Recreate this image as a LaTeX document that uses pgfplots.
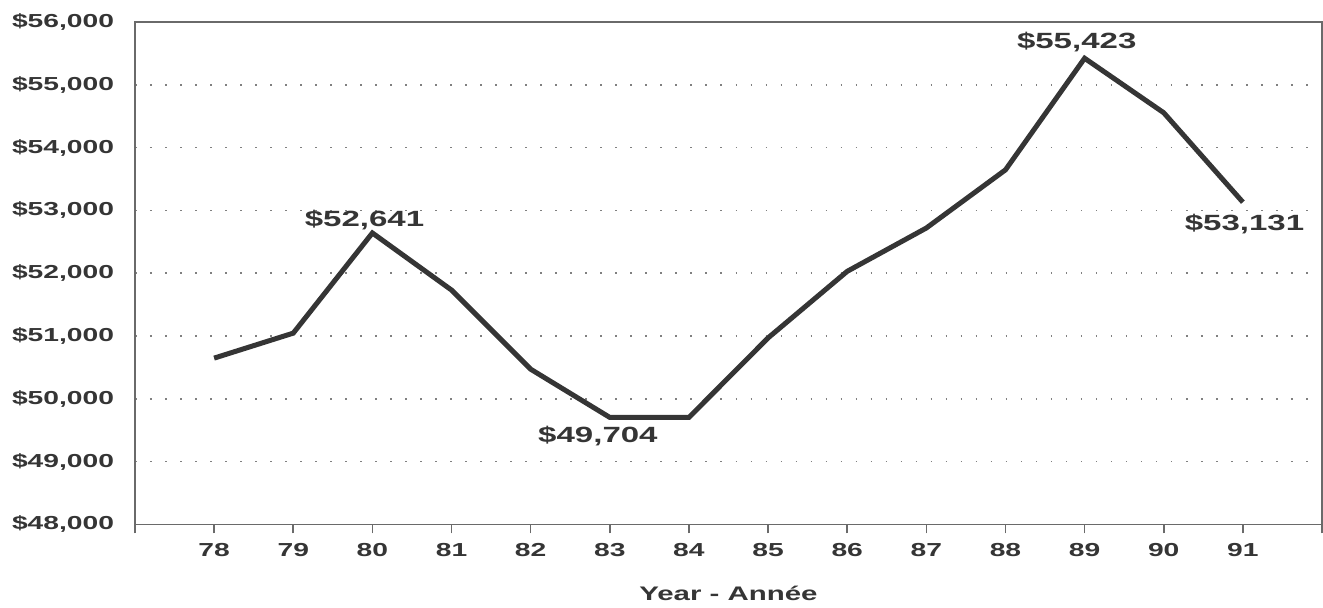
\documentclass[border=0pt]{standalone}
\usepackage{pgfplots}
\pgfplotsset{compat=1.18}
\usepackage{fontspec}
\setmainfont{Liberation Sans}
\newfontfamily\wide[FakeStretch=1.5]{Liberation Sans}
\definecolor{ink}{HTML}{353535}
\definecolor{frame}{HTML}{6A6A6A}
\begin{document}
\begin{tikzpicture}
\begin{axis}[
    scale only axis,
    width=593pt, height=251pt,
    xmin=-1, xmax=14,
    ymin=48000, ymax=56000,
    xtick={-1,...,14},
    xticklabels={,78,79,80,81,82,83,84,85,86,87,88,89,90,91,},
    ytick={48000,49000,...,56000},
    yticklabels={{\$48,000},{\$49,000},{\$50,000},{\$51,000},{\$52,000},{\$53,000},{\$54,000},{\$55,000},{\$56,000}},
    scaled y ticks=false,
    xtick pos=lower,
    ytick pos=left,
    tick align=outside,
    xtick style={frame, line width=0.8pt},
    x tick style={/pgfplots/major tick length=4.5pt},
    ytick style={draw=none},
    axis line style={frame, line width=0.8pt},
    ymajorgrids=true,
    grid style={gray, line width=0.8pt, dash pattern=on 0.8pt off 6.7pt},
    ticklabel style={font=\wide\bfseries\fontsize{9.4}{11}\selectfont, text=ink},
    yticklabel style={inner xsep=6pt},
    xticklabel style={yshift=-1.5pt, inner xsep=0pt},
    xlabel={Year - Année},
    xlabel style={font=\wide\bfseries\fontsize{9.8}{11}\selectfont, text=ink, yshift=-8pt},
    clip=false,
    nodes near coords style={font=\wide\bfseries\fontsize{11}{13}\selectfont, text=ink, anchor=center},
]
\addplot[ink, line width=2.5pt, line join=miter] coordinates {
    (0,50648) (1,51046) (2,52641) (3,51732) (4,50472) (5,49704) (6,49704)
    (7,50970) (8,52030) (9,52720) (10,53646) (11,55423) (12,54555) (13,53131)
};
\addplot[only marks, mark=none, nodes near coords={\$52,641}]
    coordinates {(1.90,52845)};
\addplot[only marks, mark=none, nodes near coords={\$49,704}]
    coordinates {(4.85,49402)};
\addplot[only marks, mark=none, nodes near coords={\$55,423}]
    coordinates {(10.9,55681)};
\addplot[only marks, mark=none, nodes near coords={\$53,131}]
    coordinates {(13.02,52781)};
\coordinate (axtop) at (rel axis cs:0.5,1);
\end{axis}
\path (axtop) -- ++(0,11pt);
\end{tikzpicture}
\end{document}
